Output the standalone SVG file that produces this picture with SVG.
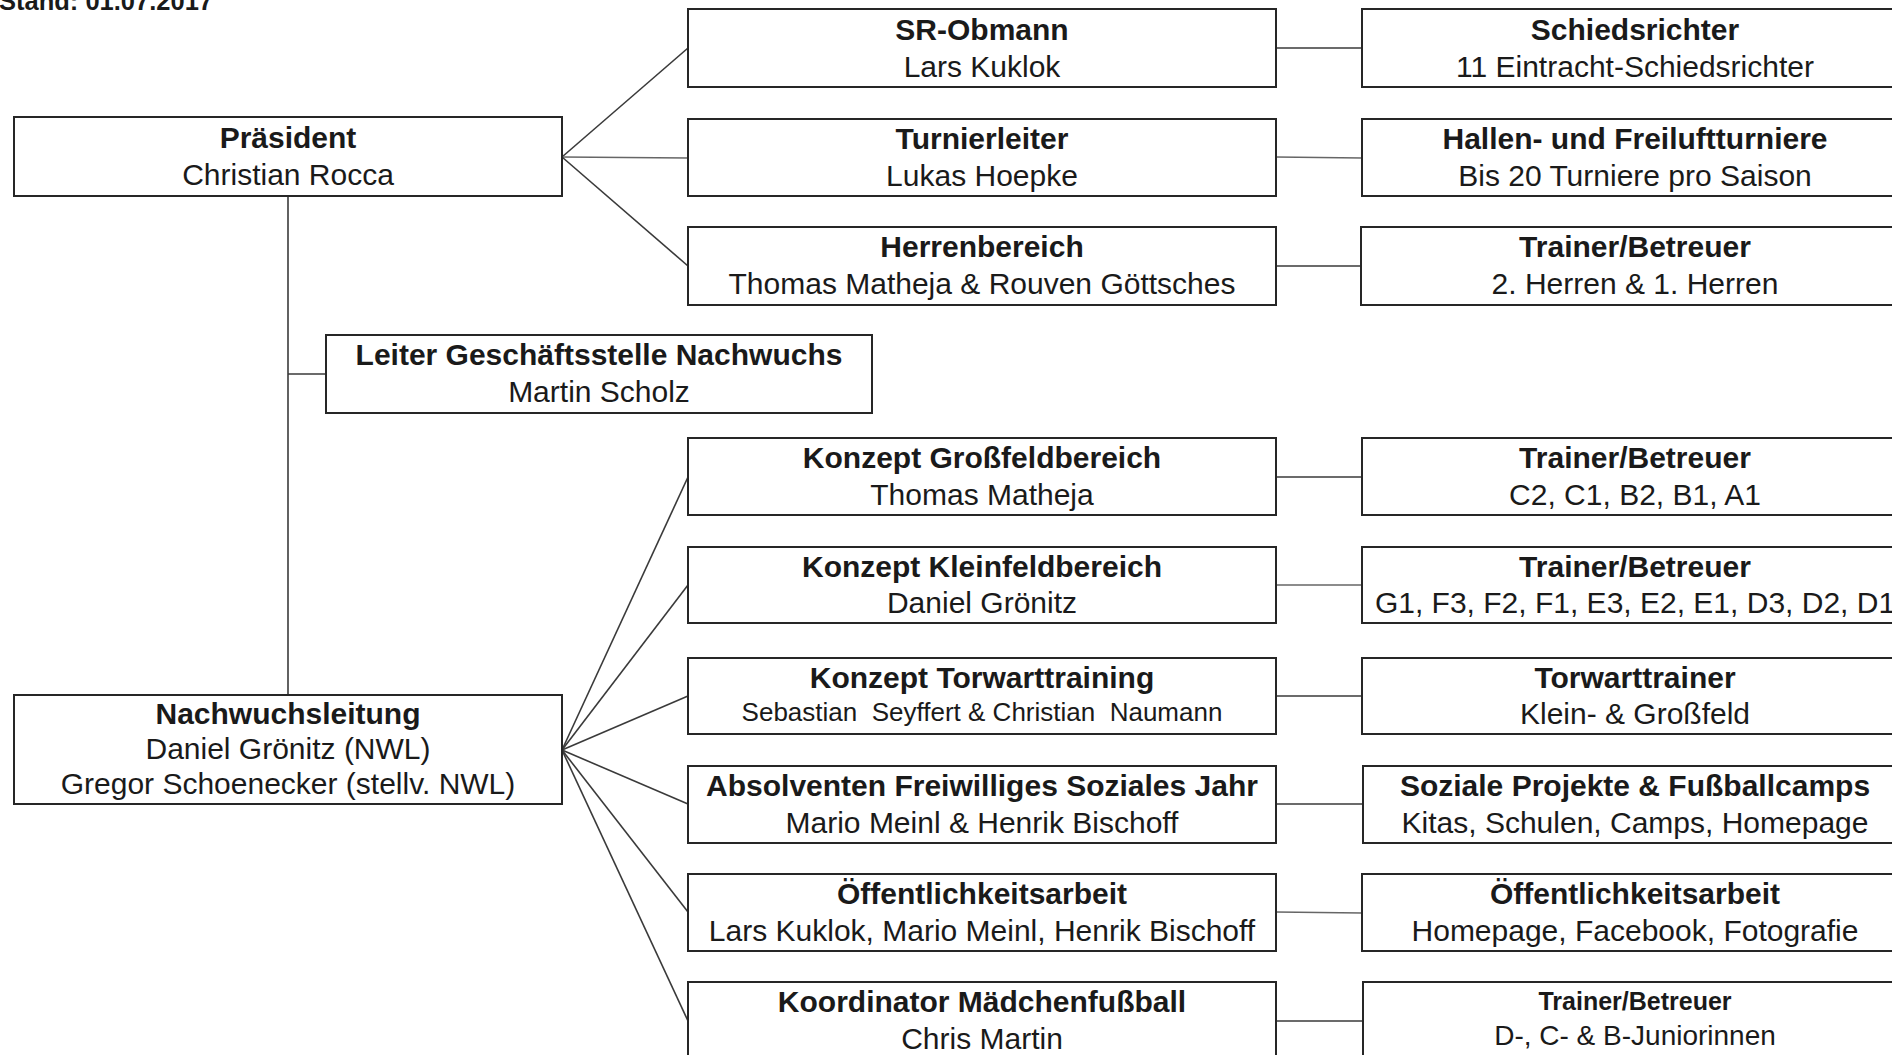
<svg xmlns="http://www.w3.org/2000/svg" width="1892" height="1055" viewBox="0 0 1892 1055">
<style>
.bg{fill:#ffffff}
.box{fill:#ffffff;stroke:#262626;stroke-width:2}
.t{font-family:"Liberation Sans",Arial,sans-serif;font-size:30px;fill:#1a1a1a;text-anchor:middle}
.b{font-weight:bold}
.sm{font-size:26px}
.conn line{stroke:#3a3a3a;stroke-width:1.6;fill:none}
.conn line.lt{stroke:#666666}
</style>
<rect class="bg" x="0" y="0" width="1892" height="1055"/>
<text x="-1" y="10" style="font-family:'Liberation Sans',Arial,sans-serif;font-size:25.5px;font-weight:bold;fill:#1a1a1a">Stand: 01.07.2017</text>

<g id="connectors" class="conn">
  <line x1="562" y1="157" x2="688" y2="48"/>
  <line class="lt" x1="562" y1="157" x2="688" y2="158"/>
  <line x1="562" y1="157" x2="688" y2="266"/>
  <line x1="288" y1="196" x2="288" y2="695"/>
  <line x1="288" y1="374" x2="326" y2="374"/>
  <line x1="562" y1="750" x2="688" y2="477"/>
  <line x1="562" y1="750" x2="688" y2="585"/>
  <line x1="562" y1="750" x2="688" y2="696"/>
  <line x1="562" y1="750" x2="688" y2="804"/>
  <line x1="562" y1="750" x2="688" y2="912"/>
  <line x1="562" y1="750" x2="688" y2="1021"/>
  <line x1="1276" y1="48" x2="1362" y2="48"/>
  <line class="lt" x1="1276" y1="157" x2="1362" y2="158"/>
  <line x1="1276" y1="266" x2="1361" y2="266"/>
  <line x1="1276" y1="477" x2="1362" y2="477"/>
  <line class="lt" x1="1276" y1="585" x2="1362" y2="585"/>
  <line x1="1276" y1="696" x2="1362" y2="696"/>
  <line x1="1276" y1="804" x2="1362" y2="804"/>
  <line class="lt" x1="1276" y1="912" x2="1362" y2="913"/>
  <line x1="1276" y1="1021" x2="1362" y2="1021"/>
</g>

<g id="praesident">
  <rect class="box" x="14" y="117" width="548" height="79"/>
  <text class="t b" x="288" y="148">Präsident</text>
  <text class="t" x="288" y="185">Christian Rocca</text>
</g>
<g id="leiter-geschaeftsstelle">
  <rect class="box" x="326" y="335" width="546" height="78"/>
  <text class="t b" x="599" y="365">Leiter Geschäftsstelle Nachwuchs</text>
  <text class="t" x="599" y="402">Martin Scholz</text>
</g>
<g id="nachwuchsleitung">
  <rect class="box" x="14" y="695" width="548" height="109"/>
  <text class="t b" x="288" y="724">Nachwuchsleitung</text>
  <text class="t" x="288" y="759">Daniel Grönitz (NWL)</text>
  <text class="t" x="288" y="794">Gregor Schoenecker (stellv. NWL)</text>
</g>

<g id="sr-obmann">
  <rect class="box" x="688" y="9" width="588" height="78"/>
  <text class="t b" x="982" y="40">SR-Obmann</text>
  <text class="t" x="982" y="77">Lars Kuklok</text>
</g>
<g id="turnierleiter">
  <rect class="box" x="688" y="119" width="588" height="77"/>
  <text class="t b" x="982" y="149">Turnierleiter</text>
  <text class="t" x="982" y="186">Lukas Hoepke</text>
</g>
<g id="herrenbereich">
  <rect class="box" x="688" y="227" width="588" height="78"/>
  <text class="t b" x="982" y="257">Herrenbereich</text>
  <text class="t" x="982" y="294">Thomas Matheja &amp; Rouven Göttsches</text>
</g>
<g id="grossfeld">
  <rect class="box" x="688" y="438" width="588" height="77"/>
  <text class="t b" x="982" y="468">Konzept Großfeldbereich</text>
  <text class="t" x="982" y="505">Thomas Matheja</text>
</g>
<g id="kleinfeld">
  <rect class="box" x="688" y="547" width="588" height="76"/>
  <text class="t b" x="982" y="577">Konzept Kleinfeldbereich</text>
  <text class="t" x="982" y="613">Daniel Grönitz</text>
</g>
<g id="torwarttraining">
  <rect class="box" x="688" y="658" width="588" height="76"/>
  <text class="t b" x="982" y="688">Konzept Torwarttraining</text>
  <text class="t sm" x="982" y="721" xml:space="preserve">Sebastian  Seyffert &amp; Christian  Naumann</text>
</g>
<g id="fsj">
  <rect class="box" x="688" y="766" width="588" height="77"/>
  <text class="t b" x="982" y="796">Absolventen Freiwilliges Soziales Jahr</text>
  <text class="t" x="982" y="833">Mario Meinl &amp; Henrik Bischoff</text>
</g>
<g id="oeffentlichkeit">
  <rect class="box" x="688" y="874" width="588" height="77"/>
  <text class="t b" x="982" y="904">Öffentlichkeitsarbeit</text>
  <text class="t" x="982" y="941">Lars Kuklok, Mario Meinl, Henrik Bischoff</text>
</g>
<g id="maedchen">
  <rect class="box" x="688" y="982" width="588" height="80"/>
  <text class="t b" x="982" y="1012">Koordinator Mädchenfußball</text>
  <text class="t" x="982" y="1049">Chris Martin</text>
</g>

<g id="schiedsrichter">
  <rect class="box" x="1362" y="9" width="570" height="78"/>
  <text class="t b" x="1635" y="40">Schiedsrichter</text>
  <text class="t" x="1635" y="77">11 Eintracht-Schiedsrichter</text>
</g>
<g id="turniere">
  <rect class="box" x="1362" y="119" width="570" height="77"/>
  <text class="t b" x="1635" y="149">Hallen- und Freiluftturniere</text>
  <text class="t" x="1635" y="186">Bis 20 Turniere pro Saison</text>
</g>
<g id="trainer-herren">
  <rect class="box" x="1361" y="227" width="571" height="78"/>
  <text class="t b" x="1635" y="257">Trainer/Betreuer</text>
  <text class="t" x="1635" y="294">2. Herren &amp; 1. Herren</text>
</g>
<g id="trainer-grossfeld">
  <rect class="box" x="1362" y="438" width="570" height="77"/>
  <text class="t b" x="1635" y="468">Trainer/Betreuer</text>
  <text class="t" x="1635" y="505">C2, C1, B2, B1, A1</text>
</g>
<g id="trainer-kleinfeld">
  <rect class="box" x="1362" y="547" width="570" height="76"/>
  <text class="t b" x="1635" y="577">Trainer/Betreuer</text>
  <text class="t" x="1635" y="613">G1, F3, F2, F1, E3, E2, E1, D3, D2, D1</text>
</g>
<g id="torwarttrainer">
  <rect class="box" x="1362" y="658" width="570" height="76"/>
  <text class="t b" x="1635" y="688">Torwarttrainer</text>
  <text class="t" x="1635" y="724">Klein- &amp; Großfeld</text>
</g>
<g id="soziale-projekte">
  <rect class="box" x="1363" y="766" width="570" height="77"/>
  <text class="t b" x="1635" y="796">Soziale Projekte &amp; Fußballcamps</text>
  <text class="t" x="1635" y="833">Kitas, Schulen, Camps, Homepage</text>
</g>
<g id="oeffentlichkeit-medien">
  <rect class="box" x="1362" y="874" width="570" height="77"/>
  <text class="t b" x="1635" y="904">Öffentlichkeitsarbeit</text>
  <text class="t" x="1635" y="941">Homepage, Facebook, Fotografie</text>
</g>
<g id="trainer-maedchen">
  <rect class="box" x="1363" y="982" width="570" height="80"/>
  <text class="t b" x="1635" y="1010" style="font-size:25px">Trainer/Betreuer</text>
  <text class="t" x="1635" y="1045" style="font-size:28px">D-, C- &amp; B-Juniorinnen</text>
</g>
</svg>
